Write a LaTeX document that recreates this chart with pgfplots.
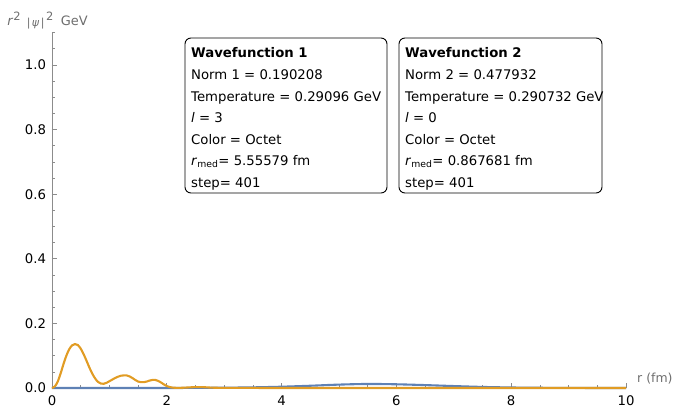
\documentclass[border=0pt]{standalone}
\usepackage{fontspec}
\setmainfont{DejaVu Sans}
\usepackage{pgfplots}
\pgfplotsset{compat=1.18}

\definecolor{wfblue}{HTML}{5E81B5}
\definecolor{wforange}{HTML}{E19C24}
\definecolor{axisgray}{HTML}{8C8C8C}
\definecolor{labelgray}{HTML}{6E6E6E}

\newcommand{\sqidx}{\raisebox{4.3bp}{\fontsize{11.5}{13}\selectfont 2}}

\begin{document}
\begin{tikzpicture}[x=1bp,y=1bp]
\begin{axis}[
  at={(0,0)}, anchor=south west,
  scale only axis,
  width=574bp, height=355.3bp,
  xmin=0, xmax=10, ymin=0, ymax=1.1,
  axis lines*=left,
  axis line style={axisgray, line width=0.8bp},
  xtick={0,2,4,6,8,10},
  ytick={0,0.2,0.4,0.6,0.8,1.0},
  minor xtick={0.5,1,...,9.5},
  minor ytick={0.05,0.1,...,1.1},
  tick align=inside,
  major tick length=5bp,
  minor tick length=3bp,
  tick style={axisgray, line width=0.7bp},
  xticklabel style={/pgf/number format/fixed, yshift=-4bp},
  yticklabel style={/pgf/number format/fixed, /pgf/number format/fixed zerofill,
                    /pgf/number format/precision=1, xshift=-2.5bp},
  /pgf/number format/assume math mode=true,
  ticklabel style={font=\fontsize{13.3}{15}\selectfont, text=black},
  clip=false,
]
% first wavefunction: broad, low bump centred near r = 5.5 fm
\addplot[wfblue, line width=2.1bp, smooth] coordinates {
  (0,0) (1,0) (2,0.0001) (2.5,0.0003) (3,0.001) (3.5,0.002) (4,0.004)
  (4.5,0.007) (5,0.0105) (5.5,0.0125) (6,0.0115) (6.5,0.009) (7,0.006)
  (7.5,0.0033) (8,0.0016) (8.5,0.0007) (9,0.0003) (9.5,0.0001) (10,0)
};
% second wavefunction: oscillating, concentrated at small r
\addplot[wforange, line width=2.1bp, smooth] coordinates {
  (0,0) (0.05,0.005) (0.1,0.02) (0.15,0.045) (0.2,0.074) (0.25,0.1)
  (0.3,0.12) (0.35,0.132) (0.4,0.136) (0.45,0.133) (0.5,0.122)
  (0.55,0.105) (0.6,0.085) (0.65,0.064) (0.7,0.045) (0.75,0.03)
  (0.8,0.019) (0.85,0.014) (0.9,0.013) (0.95,0.016) (1.0,0.021)
  (1.05,0.026) (1.1,0.031) (1.15,0.035) (1.2,0.038) (1.25,0.039)
  (1.3,0.039) (1.35,0.036) (1.4,0.031) (1.45,0.025) (1.5,0.02)
  (1.55,0.018) (1.6,0.018) (1.65,0.02) (1.7,0.023) (1.75,0.025)
  (1.8,0.025) (1.85,0.022) (1.9,0.017) (1.95,0.011) (2.0,0.006)
  (2.05,0.003) (2.1,0.0012) (2.2,0.0004) (2.3,0.001) (2.4,0.002)
  (2.5,0.0028) (2.6,0.0028) (2.7,0.002) (2.8,0.001) (3.0,0.0004)
  (3.5,0.0002) (4,0.0001) (5,0) (10,0)
};
\end{axis}

% axis labels
\node[anchor=base west, text=labelgray, font=\fontsize{13}{15}\selectfont, inner sep=0]
  at (-44.7,363) {\textit{r}\sqidx\hspace{6bp}\raisebox{-1.5bp}{\fontsize{11}{13}\selectfont|\hspace{1.5bp}\textit{ψ}\hspace{1.5bp}|}\hspace{1.5bp}\sqidx\hspace{7.5bp}GeV};
\node[anchor=base west, text=labelgray, font=\fontsize{12.5}{14}\selectfont, inner sep=0]
  at (585,6) {r (fm)};

% information boxes
\begin{scope}[font=\fontsize{13.3}{15}\selectfont]
\draw[black, line width=0.9bp, rounded corners=6bp, fill=white] (133,350) rectangle (335,195);
\draw[black, line width=0.9bp, rounded corners=6bp, fill=white] (347,350) rectangle (550,195);
\foreach \y/\t in {330.7/{\textbf{Wavefunction 1}},
                   308.5/{Norm 1 = 0.190208},
                   287/{Temperature = 0.29096 GeV},
                   265.3/{\textit{l} = 3},
                   244/{Color = Octet},
                   222.5/{\textit{r}\textsubscript{med}= 5.55579 fm},
                   201/{step= 401}}
  \node[anchor=base west, inner sep=0] at (139,\y) {\t};
\foreach \y/\t in {330.7/{\textbf{Wavefunction 2}},
                   308.5/{Norm 2 = 0.477932},
                   287/{Temperature = 0.290732 GeV},
                   265.3/{\textit{l} = 0},
                   244/{Color = Octet},
                   222.5/{\textit{r}\textsubscript{med}= 0.867681 fm},
                   201/{step= 401}}
  \node[anchor=base west, inner sep=0] at (353,\y) {\t};
\end{scope}

\pgfresetboundingbox
\path[use as bounding box] (-52,-19) rectangle (624,388);
\end{tikzpicture}
\end{document}
